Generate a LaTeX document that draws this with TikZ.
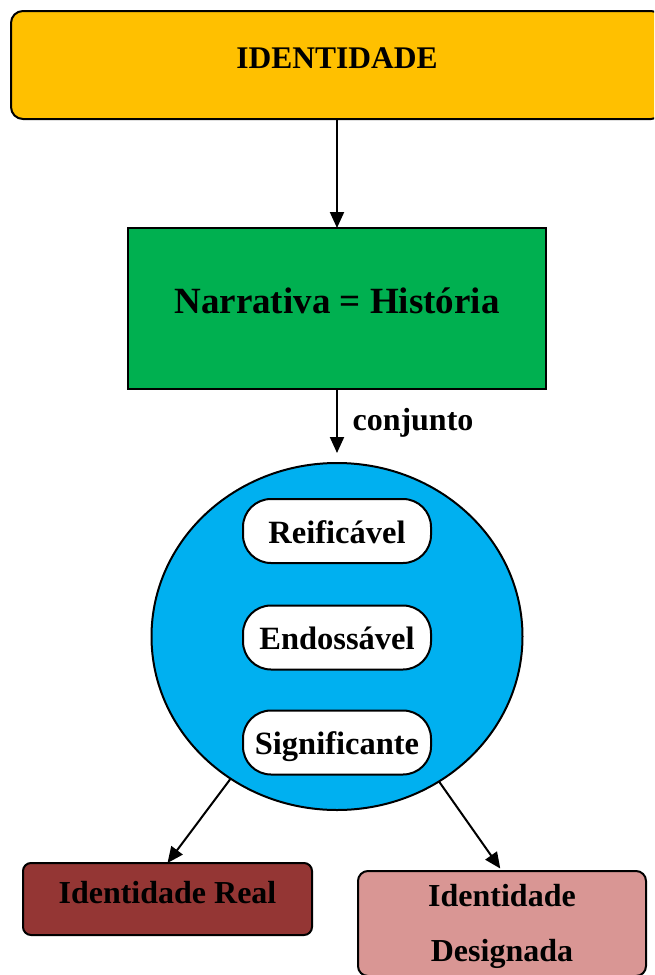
\documentclass[tikz,border=0pt]{standalone}
\usepackage{fontspec}
\setmainfont{Liberation Serif}
\usetikzlibrary{shapes.geometric,arrows.meta}
\definecolor{cyellow}{HTML}{FFC000}
\definecolor{cgreen}{HTML}{00B050}
\definecolor{cblue}{HTML}{00B0F0}
\definecolor{cred}{HTML}{943634}
\definecolor{cpink}{HTML}{D99694}
\newcommand\myfs[2]{\fontsize{#1}{#2}\selectfont\bfseries}
\begin{document}
\begin{tikzpicture}[x=1pt,y=-1pt,
  box/.style={draw=black, line width=2pt, inner sep=0pt, outer sep=0pt, align=center},
  pill/.style={box, fill=white, rounded corners=28pt, minimum width=188pt, minimum height=64pt,
    text height=24pt, text depth=0pt, font=\myfs{32.5}{38}},
  arr/.style={line width=2pt, -{Triangle[length=16pt,width=14pt]}}]
\useasboundingbox (0,0) rectangle (654,975);
\clip (0,0) rectangle (654,975);

\node[box, fill=cyellow, rounded corners=12pt, minimum width=652pt, minimum height=108pt,
  font=\myfs{31.5}{36}, text height=22pt, text depth=16pt] (ident) at (337,65) {IDENTIDADE};

\node[box, fill=cgreen, minimum width=418pt, minimum height=161pt,
  font=\myfs{37}{44}, text height=27pt, text depth=18pt] (green) at (337,308.5) {Narrativa = História};

\node[ellipse, draw=black, line width=2pt, fill=cblue, inner sep=0pt, outer sep=0pt,
  minimum width=371pt, minimum height=347pt] (ell) at (337,636.5) {};

\node[pill] (reif) at (337,531) {Reificável};
\node[pill] (endo) at (337,637.5) {Endossável};
\node[pill] (sign) at (337,742.5) {Significante};

\node[box, fill=cred, rounded corners=8pt, minimum width=289pt, minimum height=72pt,
  font=\myfs{32}{38}, text height=24pt, text depth=16pt] (real) at (167.5,899) {Identidade Real};

\node[box, fill=cpink, rounded corners=10pt, minimum width=288pt, minimum height=105pt,
  font=\myfs{32}{55}, text height=79pt, text depth=4pt] (desig) at (502,923.5) {Identidade\\Designada};

\node[font=\myfs{32}{38}, anchor=base, inner sep=0pt] (conj) at (413,430) {conjunto};

\draw[arr] (ident.south) -- (green.north);
\draw[arr] (green.south) -- ([yshift=10pt]ell.north);
\draw[arr] (ell) -- (real.north);
\draw[arr, shorten >=3pt] (ell) -- (desig.north);
\end{tikzpicture}
\end{document}
